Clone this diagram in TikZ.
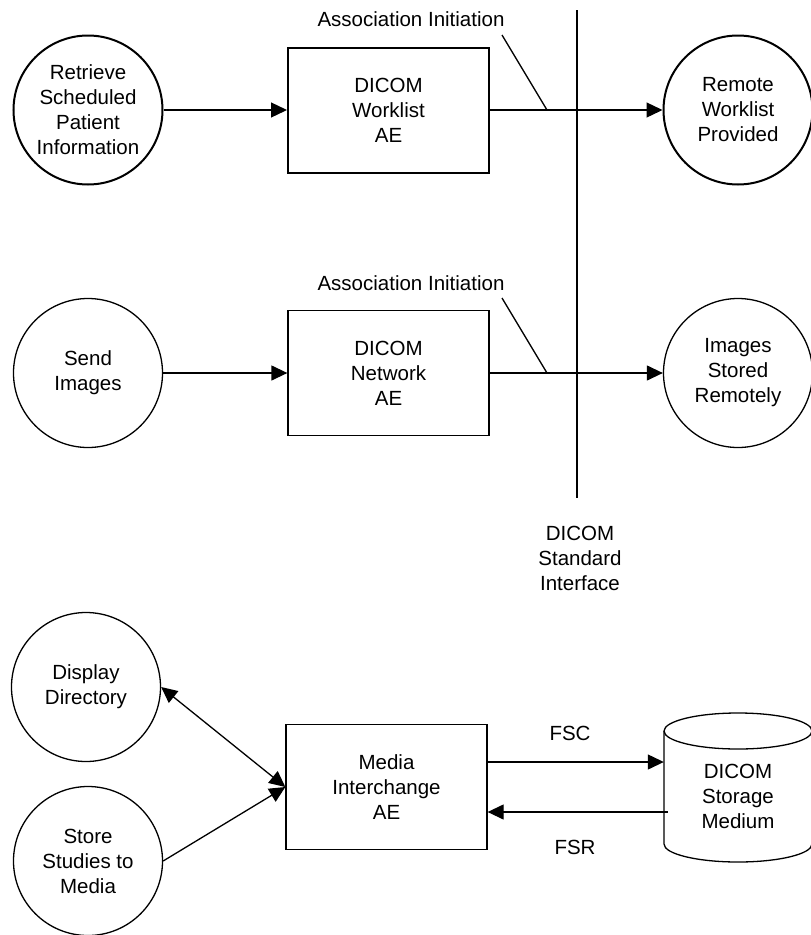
\documentclass[tikz,border=0pt]{standalone}
\usepackage{fontspec}
\setmainfont{Liberation Sans}
\usetikzlibrary{arrows.meta}
\begin{document}
\begin{tikzpicture}[x=1pt,y=-1pt,
  every node/.style={font=\fontsize{20.5}{25}\selectfont, align=center, inner sep=0pt},
  proc/.style={draw, circle, minimum size=149pt, inner sep=0pt, line width=1.3pt},
  aebox/.style={draw, rectangle, minimum width=201pt, minimum height=125pt, inner sep=0pt, line width=1.3pt},
  heavy/.style={line width=2pt},
  plain/.style={line width=1.3pt},
  tip/.tip={Triangle[length=16pt,width=15pt]},
  conn/.style={plain, -tip}]
\useasboundingbox (0,0) rectangle (811,935);

% row 1
\node[proc, heavy] (rsp) at (88,110) {Retrieve\\Scheduled\\Patient\\Information};
\node[aebox, heavy] (wl) at (388.5,110) {DICOM\\Worklist\\AE};
\node[proc, heavy] (rwp) at (738,110) {Remote\\Worklist\\Provided};
\node (ai1) at (411,19.5) {Association Initiation};
\coordinate (s1a) at (502,35);
\coordinate (s1b) at (547,110);

% row 2
\node[proc] (send) at (88,373) {Send\\Images};
\node[aebox] (net) at (388.5,373) {DICOM\\Network\\AE};
\node[proc] (isr) at (738,373) {Images\\Stored\\Remotely};
\node (ai2) at (411,283) {Association Initiation};
\coordinate (s2a) at (502,298);
\coordinate (s2b) at (547,373);

% interface line
\coordinate (vtop) at (577,10);
\coordinate (vbot) at (577,498);
\node (dsi) at (580,558) {DICOM\\Standard\\Interface};

% bottom
\node[proc] (disp) at (86,687) {Display\\Directory};
\node[proc] (store) at (88,861) {Store\\Studies to\\Media};
\node[aebox] (media) at (386.5,787) {Media\\Interchange\\AE};
\node[minimum width=148pt, minimum height=113pt] (cyl) at (738,787) {};
\node (cyltext) at (738,796) {DICOM\\Storage\\Medium};
\node (fsc) at (570,733) {FSC};
\node (fsr) at (575,847) {FSR};

% cylinder
\draw[plain] (738,731) ellipse[x radius=74, y radius=18];
\draw[plain] (664,731) -- (664,844) arc[start angle=180, end angle=0, x radius=74, y radius=18] -- (812,731);

% connectors
\draw[plain] (vtop) -- (vbot);
\draw[conn] (rsp.east) -- (wl.west);
\draw[conn] (wl.east) -- (rwp.west);
\draw[plain] (s1a) -- (s1b);
\draw[conn] (send.east) -- (net.west);
\draw[conn] (net.east) -- (isr.west);
\draw[plain] (s2a) -- (s2b);
\draw[plain, tip-tip] (disp.east) -- (media.west);
\draw[conn] (store.east) -- (media.west);
\draw[conn] ([yshift=25pt]media.east) -- ([yshift=25pt]cyl.west);
\draw[conn] ([yshift=-25pt,xshift=4pt]cyl.west) -- ([yshift=-25pt]media.east);
\end{tikzpicture}
\end{document}
